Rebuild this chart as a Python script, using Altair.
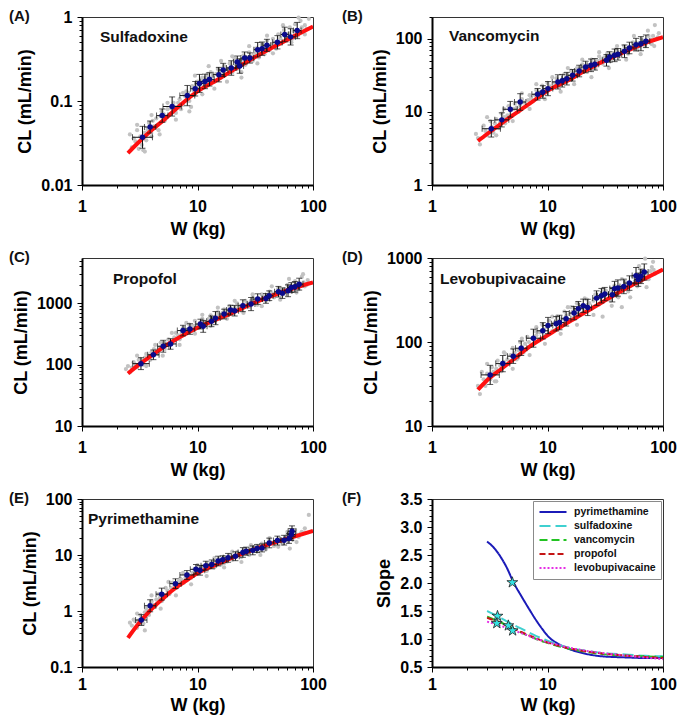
import altair as alt
import pandas as pd

# ---------------- data ----------------
PANEL_LETTERS = ["(A)", "(B)", "(C)", "(D)", "(E)", "(F)"]
DRUG_NAMES = ["Sulfadoxine", "Vancomycin", "Propofol", "Levobupivacaine", "Pyrimethamine"]

# red fitted curves (W in kg, CL in mL/min)
FIT_W = [2.5, 3, 4, 5, 7, 10, 15, 20, 30, 50, 70, 100]
FIT_A = [0.024, 0.031, 0.045, 0.058, 0.088, 0.13, 0.18, 0.23, 0.32, 0.47, 0.60, 0.77]
FIT_B = [4.0, 5.0, 7.0, 9.0, 13, 19.5, 27, 35, 49, 70, 88, 106]
FIT_C = [72, 95, 140, 190, 280, 400, 560, 700, 1000, 1450, 1800, 2200]
FIT_D = [27, 35, 48, 61, 88, 120, 170, 215, 300, 450, 570, 730]
FIT_E_W = [2.5, 3, 3.5, 4, 5, 6, 7, 8, 10, 15, 20, 30, 50, 70, 100]
FIT_E = [0.33, 0.55, 0.80, 1.08, 1.65, 2.3, 2.9, 3.5, 4.7, 6.9, 9.0, 12.3, 17.5, 21.5, 27]

# binned means (blue) with multiplicative error factors
BW_A = [3.34, 3.89, 4.95, 6.03, 8.16, 9.55, 10.4, 11.6, 12.7, 15.3, 16.7, 19.6, 22.1, 23.2, 25.6, 28.4, 33.2, 36.2, 39.9, 49.2, 56.9, 64, 73]
BC_A = [0.037, 0.049, 0.067, 0.086, 0.116, 0.140, 0.162, 0.171, 0.181, 0.206, 0.234, 0.247, 0.291, 0.261, 0.325, 0.325, 0.408, 0.42, 0.46, 0.50, 0.62, 0.58, 0.69]
XE_A = [1.22, 1.12, 1.12, 1.20, 1.16, 1.10, 1.08, 1.10, 1.10, 1.12, 1.10, 1.10, 1.08, 1.08, 1.08, 1.08, 1.08, 1.10, 1.08, 1.10, 1.08, 1.10, 1.08]
YE_A = [1.35, 1.18, 1.20, 1.30, 1.32, 1.22, 1.28, 1.22, 1.20, 1.22, 1.20, 1.22, 1.18, 1.22, 1.18, 1.15, 1.22, 1.20, 1.18, 1.20, 1.22, 1.25, 1.25]

BW_B = [3.26, 4.02, 4.76, 5.8, 8.2, 9.1, 10.1, 12.3, 13.4, 14.7, 16.5, 18.8, 21.4, 23.8, 25.7, 32.4, 34.5, 38.1, 40.7, 46.4, 51.2, 58.4, 64.4, 71.1]
BC_B = [5.9, 7.8, 10.9, 13.7, 17.5, 18.8, 20.9, 25.8, 26.8, 28.6, 31.8, 36.4, 41.3, 43.6, 45, 51, 56.7, 59.7, 61.7, 67.8, 75.3, 83.6, 86.2, 93]
XE_B = [1.20, 1.15, 1.15, 1.12, 1.12, 1.10, 1.10, 1.12, 1.10, 1.10, 1.10, 1.10, 1.10, 1.08, 1.08, 1.08, 1.08, 1.10, 1.08, 1.08, 1.10, 1.08, 1.10, 1.08]
YE_B = [1.30, 1.25, 1.28, 1.30, 1.20, 1.22, 1.25, 1.25, 1.22, 1.22, 1.20, 1.20, 1.20, 1.22, 1.20, 1.20, 1.18, 1.22, 1.20, 1.22, 1.20, 1.22, 1.25, 1.22]

BW_C = [3.24, 4.15, 5.05, 5.84, 7.49, 8.6, 10.6, 11.2, 13.2, 14.3, 17.0, 19.3, 21.0, 24.7, 29.1, 33.2, 39.1, 41.8, 50.2, 54.3, 60.8, 64.9, 69.7, 75.9]
BC_C = [104, 145, 200, 218, 360, 382, 460, 422, 509, 575, 670, 777, 760, 916, 975, 1175, 1205, 1333, 1550, 1470, 1607, 1817, 1862, 2060]
XE_C = [1.18, 1.12, 1.12, 1.12, 1.12, 1.10, 1.10, 1.08, 1.10, 1.10, 1.10, 1.08, 1.08, 1.10, 1.08, 1.10, 1.08, 1.08, 1.08, 1.08, 1.08, 1.08, 1.08, 1.08]
YE_C = [1.25, 1.20, 1.25, 1.22, 1.22, 1.22, 1.20, 1.25, 1.22, 1.28, 1.20, 1.20, 1.22, 1.25, 1.28, 1.22, 1.20, 1.20, 1.22, 1.22, 1.25, 1.20, 1.22, 1.25]

BW_D = [3.19, 4.1, 5.05, 5.92, 7.55, 9.1, 10.1, 11.9, 12.7, 14.5, 17.0, 18.5, 20.4, 22.3, 26.6, 29.3, 31.3, 36.4, 38.1, 40.7, 45.8, 51.2, 58.4, 61.1, 64.4, 68.8]
BC_D = [40.6, 55.3, 67.8, 84.3, 111, 136, 157, 165, 171, 189, 221, 249, 270, 258, 333, 356, 372, 366, 432, 439, 459, 503, 617, 552, 605, 680]
XE_D = [1.20, 1.15, 1.12, 1.12, 1.15, 1.12, 1.10, 1.10, 1.10, 1.10, 1.10, 1.10, 1.08, 1.08, 1.08, 1.08, 1.08, 1.08, 1.10, 1.08, 1.08, 1.10, 1.08, 1.08, 1.08, 1.08]
YE_D = [1.30, 1.25, 1.22, 1.22, 1.28, 1.25, 1.25, 1.22, 1.22, 1.22, 1.20, 1.22, 1.20, 1.25, 1.22, 1.22, 1.20, 1.22, 1.22, 1.25, 1.22, 1.22, 1.25, 1.20, 1.22, 1.25]

BW_E = [3.26, 3.89, 4.9, 6.45, 8.1, 9.7, 10.5, 11.8, 13.3, 15.1, 16.5, 18.4, 21.3, 24.7, 26.4, 30.1, 32.8, 36.2, 41.8, 49.2, 56.2, 62, 64.9, 65.8]
BC_E = [0.69, 1.24, 2.0, 3.08, 4.4, 5.55, 5.33, 6.45, 6.8, 7.8, 8.2, 8.9, 9.5, 11.1, 11.7, 12.1, 13.1, 13.4, 16.4, 18.1, 18.4, 19.7, 23.2, 26.5]
XE_E = [1.12, 1.12, 1.12, 1.12, 1.15, 1.12, 1.10, 1.10, 1.10, 1.10, 1.08, 1.10, 1.08, 1.10, 1.08, 1.08, 1.08, 1.08, 1.10, 1.08, 1.08, 1.08, 1.08, 1.08]
YE_E = [1.25, 1.28, 1.28, 1.22, 1.20, 1.22, 1.22, 1.20, 1.20, 1.22, 1.18, 1.20, 1.20, 1.22, 1.18, 1.20, 1.18, 1.18, 1.22, 1.20, 1.22, 1.22, 1.28, 1.25]

# individual observations (grey)
GW_A = [2.6, 2.7, 2.9, 3.0, 3.1, 3.3, 3.5, 3.6, 3.8, 4.0, 4.2, 4.4, 4.6, 4.9, 5.2, 5.5, 5.8, 6.2, 6.5, 7.0, 7.5, 8.0, 8.5, 9.0, 9.5, 10, 10.5, 11, 11.5, 12, 12.5, 13, 14, 15, 16, 17, 18, 19, 20, 21, 22, 23, 24, 25, 26, 28, 30, 32, 34, 36, 38, 40, 42, 45, 48, 50, 53, 56, 60, 63, 66, 70, 74, 78, 82, 88, 92,
        2.8, 3.2, 3.4, 3.7, 4.1, 4.5, 4.8, 5.1, 5.4, 5.9, 6.4, 6.8, 7.2, 7.8, 8.3, 8.8, 9.2, 9.8, 10.2, 10.8, 11.8, 12.2, 13.5, 14.5, 15.5, 16.5, 17.5, 18.5, 19.5, 21.5, 23.5, 24.5, 27, 29, 31, 33, 35, 37, 39, 41, 44, 46, 52, 58, 62, 68, 72, 76, 80, 85,
        3.0, 3.5, 4.0, 4.7, 5.5, 6.5, 7.5, 8.5, 9.5, 11, 12.5, 14, 16, 18, 20, 24, 28, 33, 40, 45, 55, 65, 75, 85]
GC_A = [0.040, 0.028, 0.033, 0.045, 0.027, 0.030, 0.042, 0.034, 0.055, 0.038, 0.050, 0.062, 0.045, 0.075, 0.058, 0.080, 0.070, 0.095, 0.072, 0.105, 0.09, 0.13, 0.10, 0.15, 0.12, 0.17, 0.14, 0.19, 0.15, 0.20, 0.16, 0.22, 0.17, 0.24, 0.19, 0.26, 0.21, 0.28, 0.22, 0.32, 0.24, 0.30, 0.19, 0.35, 0.27, 0.38, 0.30, 0.42, 0.33, 0.47, 0.36, 0.52, 0.40, 0.55, 0.42, 0.62, 0.48, 0.70, 0.52, 0.75, 0.55, 0.82, 0.60, 0.90, 0.66, 0.72, 0.95,
        0.036, 0.038, 0.026, 0.046, 0.058, 0.052, 0.066, 0.070, 0.065, 0.082, 0.085, 0.095, 0.080, 0.115, 0.125, 0.085, 0.135, 0.16, 0.15, 0.175, 0.18, 0.21, 0.20, 0.21, 0.225, 0.23, 0.25, 0.24, 0.26, 0.27, 0.28, 0.31, 0.33, 0.34, 0.36, 0.38, 0.40, 0.41, 0.44, 0.45, 0.48, 0.50, 0.56, 0.58, 0.64, 0.68, 0.70, 0.66, 0.75, 0.80,
        0.052, 0.025, 0.068, 0.040, 0.095, 0.060, 0.125, 0.075, 0.20, 0.12, 0.26, 0.14, 0.30, 0.17, 0.34, 0.22, 0.45, 0.28, 0.60, 0.37, 0.80, 0.50, 0.98, 0.62]

GW_B = [2.4, 2.6, 2.8, 3.0, 3.2, 3.4, 3.6, 3.8, 4.0, 4.3, 4.6, 4.9, 5.2, 5.6, 6.0, 6.5, 7.0, 7.5, 8, 8.5, 9, 9.5, 10, 11, 12, 13, 14, 15, 16, 17, 18, 19, 20, 22, 24, 26, 28, 30, 33, 36, 39, 42, 46, 50, 55, 60, 65, 70, 75, 80, 85, 88, 92,
        2.5, 2.9, 3.3, 3.5, 3.9, 4.2, 4.5, 4.8, 5.1, 5.4, 5.8, 6.2, 6.8, 7.2, 7.8, 8.2, 8.8, 9.2, 9.8, 10.5, 11.5, 12.5, 13.5, 14.5, 15.5, 16.5, 17.5, 18.5, 19.5, 21, 23, 25, 27, 29, 31, 34, 37, 40, 44, 48, 52, 57, 62, 67, 72, 78, 82, 90,
        3.0, 3.6, 4.2, 5.0, 6.0, 7.0, 8.0, 9.5, 11, 13, 15, 17, 20, 24, 28, 34, 40, 48, 56, 64, 74, 84]
GC_B = [5.0, 3.6, 6.5, 4.8, 7.5, 5.2, 8.0, 6.0, 9.5, 7.0, 12, 9.0, 13, 10, 15, 12, 17, 14, 20, 16, 23, 18, 25, 21, 29, 24, 33, 27, 37, 30, 40, 33, 45, 36, 52, 40, 58, 46, 64, 52, 72, 58, 80, 63, 90, 72, 100, 80, 110, 85, 155, 100, 120,
        4.4, 5.5, 6.2, 7.0, 7.2, 8.5, 9.0, 10.5, 11, 11.5, 12.5, 13.5, 14.5, 15.5, 17, 18, 19, 20, 21, 22.5, 25, 26, 28, 30, 31, 34, 35, 37, 39, 42, 44, 47, 50, 53, 56, 60, 62, 66, 70, 74, 78, 82, 88, 92, 96, 98, 110, 105,
        8.5, 4.8, 11, 7.5, 18, 11, 24, 15, 30, 19, 40, 24, 52, 30, 66, 40, 80, 52, 110, 62, 130, 80]

GW_C = [2.4, 2.6, 2.8, 3.0, 3.2, 3.4, 3.6, 3.9, 4.2, 4.5, 4.8, 5.2, 5.6, 6.0, 6.5, 7.0, 7.5, 8.0, 8.5, 9.0, 9.5, 10, 11, 12, 13, 14, 15, 16, 17, 18, 19, 20, 22, 24, 26, 28, 30, 33, 36, 39, 42, 46, 50, 55, 60, 65, 70, 75, 80, 85, 90,
        2.5, 2.7, 2.9, 3.1, 3.3, 3.5, 3.8, 4.0, 4.4, 4.7, 5.0, 5.4, 5.8, 6.3, 6.8, 7.3, 7.8, 8.3, 8.8, 9.3, 9.8, 10.5, 11.5, 12.5, 13.5, 14.5, 15.5, 16.5, 17.5, 18.5, 19.5, 21, 23, 25, 27, 29, 31, 34, 37, 40, 44, 48, 52, 57, 62, 67, 72, 78, 83, 88,
        3.0, 3.6, 4.3, 5.0, 6.0, 7.0, 8.0, 9.5, 11, 13, 15, 18, 21, 25, 30, 36, 44, 52, 62, 72, 82]
GC_C = [85, 75, 110, 90, 125, 100, 150, 120, 180, 150, 230, 180, 260, 220, 330, 260, 400, 320, 450, 360, 520, 400, 560, 450, 640, 520, 720, 580, 800, 650, 900, 720, 1000, 780, 1100, 880, 1250, 950, 1400, 1100, 1550, 1250, 1750, 1400, 2000, 1550, 2300, 1700, 2700, 1900, 2400,
        95, 90, 100, 120, 115, 130, 140, 160, 170, 190, 210, 220, 240, 280, 300, 330, 360, 380, 420, 430, 450, 480, 500, 560, 580, 620, 660, 700, 730, 780, 820, 850, 900, 950, 1000, 1100, 1150, 1200, 1300, 1350, 1450, 1500, 1600, 1700, 1800, 1900, 2000, 2100, 2200, 2000,
        140, 95, 210, 140, 330, 210, 480, 320, 650, 430, 850, 560, 1100, 700, 1400, 900, 1900, 1150, 2500, 1500, 3000]

GW_D = [2.6, 2.7, 2.9, 3.1, 3.3, 3.5, 3.7, 4.0, 4.3, 4.6, 5.0, 5.4, 5.8, 6.2, 6.7, 7.2, 7.8, 8.4, 9.0, 9.6, 10.3, 11, 12, 13, 14, 15, 16, 17, 18, 20, 22, 24, 26, 28, 30, 32, 35, 38, 41, 44, 47, 50, 55, 60, 65, 70, 75, 80, 85,
        2.5, 2.8, 3.0, 3.2, 3.4, 3.6, 3.9, 4.2, 4.5, 4.8, 5.2, 5.6, 6.0, 6.4, 6.9, 7.4, 8.0, 8.6, 9.3, 9.9, 10.6, 11.5, 12.5, 13.5, 14.5, 15.5, 16.5, 17.5, 19, 21, 23, 25, 27, 29, 31, 34, 37, 40, 43, 46, 49, 53, 58, 62, 67, 72, 78, 83,
        3.0, 3.6, 4.2, 5.0, 6.0, 7.0, 8.0, 9.5, 11, 13, 15, 18, 21, 25, 30, 36, 44, 52, 62, 72, 82]
GC_D = [24, 44, 30, 38, 50, 34, 60, 45, 72, 55, 85, 62, 100, 75, 115, 90, 135, 105, 160, 120, 180, 135, 200, 150, 230, 175, 260, 195, 290, 220, 320, 250, 370, 280, 200, 410, 310, 470, 340, 260, 520, 400, 600, 460, 700, 980, 560, 780, 650,
        30, 36, 42, 36, 44, 48, 52, 58, 62, 70, 74, 80, 88, 95, 100, 110, 120, 130, 140, 150, 160, 170, 180, 190, 205, 215, 230, 240, 255, 270, 290, 310, 330, 345, 360, 380, 400, 420, 440, 460, 480, 500, 540, 580, 620, 660, 700, 720,
        55, 34, 75, 48, 110, 70, 150, 95, 200, 125, 260, 160, 330, 210, 420, 270, 560, 340, 800, 450, 900]

GW_E = [2.6, 2.8, 3.0, 3.2, 3.4, 3.6, 3.8, 4.0, 4.3, 4.6, 4.9, 5.3, 5.7, 6.1, 6.6, 7.1, 7.6, 8.2, 8.8, 9.4, 10, 11, 12, 13, 14, 15, 16, 17, 18, 19, 20, 22, 24, 26, 28, 30, 33, 36, 39, 42, 46, 50, 55, 60, 63, 66, 70, 75, 80, 92,
        2.7, 2.9, 3.1, 3.3, 3.5, 3.7, 3.9, 4.1, 4.4, 4.7, 5.0, 5.5, 5.9, 6.3, 6.8, 7.3, 7.9, 8.5, 9.1, 9.7, 10.5, 11.5, 12.5, 13.5, 14.5, 15.5, 16.5, 17.5, 19, 21, 23, 25, 27, 29, 31, 34, 37, 40, 43, 46, 49, 53, 58, 62, 67, 72, 78, 85,
        3.0, 3.5, 4.0, 4.8, 5.6, 6.5, 7.5, 8.8, 10, 12, 14, 17, 20, 24, 29, 35, 42, 50, 60, 72, 85]
GC_E = [0.62, 0.70, 0.50, 0.85, 0.60, 1.1, 0.85, 1.5, 1.2, 2.0, 1.5, 2.6, 2.0, 3.2, 2.6, 3.8, 3.2, 4.6, 3.9, 5.6, 4.6, 6.3, 5.2, 7.2, 6.0, 8.3, 6.8, 9.2, 7.6, 10, 8.2, 11.3, 9.2, 12.5, 10, 14, 11.5, 16, 12.5, 18, 14.5, 20, 16, 23, 13, 19, 28, 21, 26, 52,
        0.55, 0.65, 0.68, 0.75, 0.95, 1.0, 1.3, 1.3, 1.6, 1.7, 2.0, 2.3, 2.6, 2.9, 3.3, 3.6, 4.0, 4.3, 4.8, 5.2, 5.6, 6.0, 6.6, 7.0, 7.4, 7.8, 8.2, 8.6, 9.2, 9.8, 10.5, 11.2, 11.8, 12.5, 13, 14, 14.8, 15.5, 16.5, 17, 18, 19, 20, 21, 22, 23, 24, 25,
        0.9, 0.45, 1.9, 1.1, 3.3, 1.9, 4.8, 3.0, 6.6, 4.2, 8.8, 6.0, 11.5, 7.5, 15, 10, 20, 14, 26, 17, 30]

# panel F: slope of log CL vs log W
SLOPE_DRUGS = ["pyrimethamine", "sulfadoxine", "vancomycin", "propofol", "levobupivacaine"]
SLOPE_W = [3, 3.5, 4, 4.5, 5, 6, 7, 8, 9, 10, 11, 12, 15, 20, 30, 50, 70, 100]
SLOPE_PYR = [2.74, 2.61, 2.44, 2.25, 2.04, 1.75, 1.52, 1.33, 1.18, 1.06, 0.98, 0.93, 0.83, 0.75, 0.69, 0.67, 0.66, 0.66]
SLOPE_SUL = [1.50, 1.43, 1.37, 1.31, 1.26, 1.18, 1.11, 1.05, 1.01, 0.97, 0.94, 0.91, 0.85, 0.80, 0.75, 0.72, 0.70, 0.69]
SLOPE_VAN = [1.40, 1.34, 1.29, 1.24, 1.19, 1.11, 1.05, 1.00, 0.96, 0.93, 0.90, 0.88, 0.83, 0.78, 0.73, 0.70, 0.69, 0.68]
SLOPE_PRO = [1.38, 1.33, 1.28, 1.23, 1.19, 1.12, 1.06, 1.01, 0.97, 0.94, 0.91, 0.89, 0.84, 0.79, 0.74, 0.70, 0.68, 0.66]
SLOPE_LEV = [1.31, 1.27, 1.23, 1.19, 1.16, 1.10, 1.05, 1.00, 0.97, 0.94, 0.92, 0.90, 0.85, 0.80, 0.75, 0.70, 0.67, 0.64]
STAR_W = [4.96, 3.69, 3.64, 4.58, 4.99]
STAR_S = [2.01, 1.41, 1.28, 1.24, 1.15]

SLOPE_COLORS = ["#1b1bb8", "#3fd0d0", "#22c322", "#c41414", "#e52ee5"]
SLOPE_DASHES = [[1, 0], [11, 5], [8, 4], [6, 3], [2, 2]]

# axis tick positions
MANT = [1, 2, 3, 4, 5, 6, 7, 8, 9]
def log_ticks(lo, hi):
    vals = []
    e = -3
    while e <= 4:
        for m in MANT:
            v = round(m * 10.0 ** e, 6)
            if lo - 1e-9 <= v <= hi + 1e-9:
                vals.append(v)
        e += 1
    return vals

FONT = "Liberation Sans, Arial, sans-serif"
IS_DEC = "abs(log(datum.value)/LN10 - round(log(datum.value)/LN10)) < 0.001"
IS_HALF = "abs(datum.value*2 - round(datum.value*2)) < 0.001"

XSCALE = alt.Scale(type="log", domain=[1, 100], nice=False)


def x_axis(lp, tp):
    return alt.Axis(
        title="W (kg)", values=log_ticks(1, 100),
        labelExpr=f"{IS_DEC} ? format(datum.value, '~g') : ''",
        tickSize={"condition": {"test": IS_DEC, "value": 5}, "value": 3},
        labelPadding=lp, titlePadding=tp,
    )


def y_log_axis(lo, hi, title="CL (mL/min)"):
    return alt.Axis(
        title=title, values=log_ticks(lo, hi),
        labelExpr=f"{IS_DEC} ? format(datum.value, '~g') : ''",
        tickSize={"condition": {"test": IS_DEC, "value": 5}, "value": 3},
        labelPadding=5, titlePadding=6,
    )


W_PX = 231
H_PX = 168
LETTER_L = -73
LETTER_R = -90


def cl_panel(letter, letter_dx, name, name_x, name_y, fit_w, fit_c,
             bw, bc, xe, ye, gw, gc, ydom, lp=8, tp=6):
    ysc = alt.Scale(type="log", domain=ydom, nice=False)
    yax = y_log_axis(ydom[0], ydom[1])
    xax = x_axis(lp, tp)

    def X(f):
        return alt.X(f"{f}:Q", scale=XSCALE, axis=xax)

    def Y(f):
        return alt.Y(f"{f}:Q", scale=ysc, axis=yax)

    df_g = pd.DataFrame({"W": gw, "CL": gc})
    df_f = pd.DataFrame({"W": fit_w, "CL": fit_c})
    df_b = pd.DataFrame({
        "W": bw, "CL": bc,
        "xlo": [w / f for w, f in zip(bw, xe)], "xhi": [w * f for w, f in zip(bw, xe)],
        "ylo": [c / f for c, f in zip(bc, ye)], "yhi": [c * f for c, f in zip(bc, ye)],
    })

    gray = alt.Chart(df_g).mark_circle(color="#c2c2c2", size=18, opacity=1).encode(x=X("W"), y=Y("CL"))
    fit = alt.Chart(df_f).mark_line(color="#ff1010", strokeWidth=4, interpolate="monotone", clip=True).encode(x=X("W"), y=Y("CL"))
    base = alt.Chart(df_b)
    hbar = base.mark_rule(color="#111", strokeWidth=1).encode(x=X("xlo"), x2="xhi:Q", y=Y("CL"))
    hc1 = base.mark_tick(orient="vertical", size=6, thickness=1, color="#111").encode(x=X("xlo"), y=Y("CL"))
    hc2 = base.mark_tick(orient="vertical", size=6, thickness=1, color="#111").encode(x=X("xhi"), y=Y("CL"))
    vbar = base.mark_rule(color="#111", strokeWidth=1).encode(x=X("W"), y=Y("ylo"), y2="yhi:Q")
    vc1 = base.mark_tick(orient="horizontal", size=6, thickness=1, color="#111").encode(x=X("W"), y=Y("ylo"))
    vc2 = base.mark_tick(orient="horizontal", size=6, thickness=1, color="#111").encode(x=X("W"), y=Y("yhi"))
    pts = base.mark_circle(color="#0a0a8c", size=30, opacity=1).encode(x=X("W"), y=Y("CL"))

    name_t = alt.Chart(pd.DataFrame({"t": [name]})).mark_text(
        font=FONT, fontSize=15.5, fontWeight="bold", color="#111", align="left", baseline="alphabetic"
    ).encode(x=alt.value(name_x), y=alt.value(name_y), text="t:N")
    letter_t = alt.Chart(pd.DataFrame({"t": [letter]})).mark_text(
        font=FONT, fontSize=15, fontWeight="bold", color="#111", align="left", baseline="top"
    ).encode(x=alt.value(letter_dx), y=alt.value(-8), text="t:N")

    return alt.layer(gray, fit, hbar, hc1, hc2, vbar, vc1, vc2, pts, name_t, letter_t).properties(
        width=W_PX, height=H_PX)


pA = cl_panel(PANEL_LETTERS[0], LETTER_L, DRUG_NAMES[0], 18, 25, FIT_W, FIT_A, BW_A, BC_A, XE_A, YE_A, GW_A, GC_A, [0.01, 1])
pB = cl_panel(PANEL_LETTERS[1], LETTER_R, DRUG_NAMES[1], 17, 24, FIT_W, FIT_B, BW_B, BC_B, XE_B, YE_B, GW_B, GC_B, [1, 200])
pC = cl_panel(PANEL_LETTERS[2], LETTER_L, DRUG_NAMES[2], 31, 26, FIT_W, FIT_C, BW_C, BC_C, XE_C, YE_C, GW_C, GC_C, [10, 5500])
pD = cl_panel(PANEL_LETTERS[3], LETTER_R, DRUG_NAMES[3], 8, 26, FIT_W, FIT_D, BW_D, BC_D, XE_D, YE_D, GW_D, GC_D, [10, 1000])
pE = cl_panel(PANEL_LETTERS[4], LETTER_L, DRUG_NAMES[4], 6, 25, FIT_E_W, FIT_E, BW_E, BC_E, XE_E, YE_E, GW_E, GC_E, [0.1, 100], lp=4, tp=4)

# ---- panel F ----
rows = []
for drug, vals in zip(SLOPE_DRUGS, [SLOPE_PYR, SLOPE_SUL, SLOPE_VAN, SLOPE_PRO, SLOPE_LEV]):
    for w, s in zip(SLOPE_W, vals):
        rows.append({"drug": drug, "W": w, "S": s})
df_s = pd.DataFrame(rows)
df_star = pd.DataFrame({"W": STAR_W, "S": STAR_S})

slope_ticks = [round(0.5 + 0.1 * i, 1) for i in range(31)]
ysF = alt.Scale(domain=[0.5, 3.5], nice=False, zero=False)
yaxF = alt.Axis(
    title="Slope", values=slope_ticks,
    labelExpr=f"{IS_HALF} ? format(datum.value, '.1f') : ''",
    tickSize={"condition": {"test": IS_HALF, "value": 5}, "value": 3},
    labelPadding=5, titlePadding=6,
)
xaxF = x_axis(4, 4)
LEG_SYMBOL = "M-3,0L3,0"
leg = alt.Legend(
    title=None, orient="top-right", offset=2, symbolType=LEG_SYMBOL, symbolSize=81,
    symbolStrokeWidth=2.2, strokeColor="#8a8a8a", fillColor="white", padding=5,
    symbolOffset=9, labelOffset=15,
    labelFont=FONT, labelFontSize=10.5, labelFontWeight="bold", labelColor="#111",
    rowPadding=2,
)
lines = alt.Chart(df_s).mark_line(strokeWidth=2, clip=True, interpolate="monotone").encode(
    x=alt.X("W:Q", scale=XSCALE, axis=xaxF),
    y=alt.Y("S:Q", scale=ysF, axis=yaxF),
    color=alt.Color("drug:N", scale=alt.Scale(domain=SLOPE_DRUGS, range=SLOPE_COLORS), sort=SLOPE_DRUGS, legend=leg),
    strokeDash=alt.StrokeDash("drug:N", scale=alt.Scale(domain=SLOPE_DRUGS, range=SLOPE_DASHES), sort=SLOPE_DRUGS, legend=leg),
    detail="drug:N",
)
STAR = "M0,-1L0.2245,-0.309L0.951,-0.309L0.363,0.118L0.588,0.809L0,0.382L-0.588,0.809L-0.363,0.118L-0.951,-0.309L-0.2245,-0.309Z"
stars = alt.Chart(df_star).mark_point(
    shape=STAR, filled=True, fill="#35e3e3", stroke="#222", strokeWidth=0.8, size=130, opacity=1
).encode(x=alt.X("W:Q", scale=XSCALE, axis=xaxF), y=alt.Y("S:Q", scale=ysF, axis=yaxF))
letter_F = alt.Chart(pd.DataFrame({"t": [PANEL_LETTERS[5]]})).mark_text(
    font=FONT, fontSize=15, fontWeight="bold", color="#111", align="left", baseline="top"
).encode(x=alt.value(LETTER_R), y=alt.value(-8), text="t:N")
pF = alt.layer(lines, stars, letter_F).properties(width=W_PX, height=H_PX)

chart = alt.concat(
    pA, pB, pC, pD, pE, pF, columns=2,
    spacing={"row": 73, "column": 119}, bounds="flush",
).resolve_scale(
    color="independent", strokeDash="independent"
).resolve_legend(
    color="independent", strokeDash="independent"
).properties(padding=0).configure_view(
    stroke="#333", strokeWidth=1
).configure_axis(
    grid=False, domainColor="black", domainWidth=2, tickColor="black", tickWidth=1,
    labelFont=FONT, labelFontSize=16, labelFontWeight="bold", labelColor="black",
    titleFont=FONT, titleFontSize=18, titleFontWeight="bold", titleColor="black",
    labelOverlap=False, labelFlush=False,
)

chart.save("out.html", embed_options={"renderer": "svg", "actions": False})
